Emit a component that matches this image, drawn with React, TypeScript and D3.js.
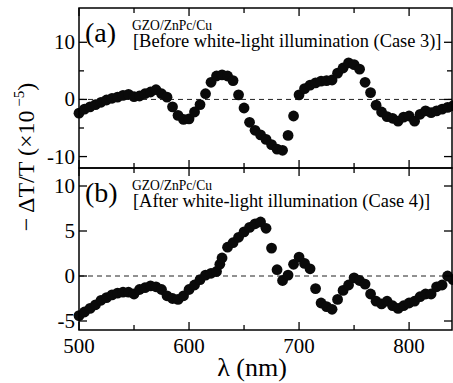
import React, { useEffect, useRef } from 'react';
import * as d3 from 'd3';

// wavelength (nm) and -dT/T (x1e-5)
const lambdaA = [500, 505, 510, 515, 520, 525, 530, 535, 540, 545, 550, 555, 560, 565, 570, 575, 580, 585, 590, 595, 600, 605, 610, 615, 620, 625, 630, 635, 640, 645, 650, 655, 660, 665, 670, 675, 680, 685, 690, 695, 700, 705, 710, 715, 720, 725, 730, 735, 740, 745, 750, 755, 760, 765, 770, 775, 780, 785, 790, 795, 800, 805, 810, 815, 820, 825, 830, 835, 840];
const signalA = [-2.4, -1.7, -1.3, -0.9, -0.5, -0.1, 0.2, 0.4, 0.7, 0.9, 0.5, 0.6, 1.0, 1.3, 1.7, 1.0, 0.4, -1.3, -2.8, -3.5, -3.4, -2.2, -0.9, 1.0, 3.0, 4.1, 4.3, 4.1, 3.3, 0.8, -1.5, -4.0, -5.4, -6.2, -7.0, -7.9, -8.7, -8.9, -6.3, -2.9, 0.8, 1.9, 2.5, 2.9, 3.2, 3.3, 3.4, 4.6, 5.5, 6.4, 6.1, 5.3, 3.0, 1.2, -1.0, -2.2, -3.0, -3.3, -3.8, -3.1, -2.9, -3.8, -2.6, -2.0, -2.3, -2.0, -1.7, -1.4, -1.1];

const lambdaB = [500, 505, 510, 515, 520, 525, 530, 535, 540, 545, 550, 555, 560, 565, 570, 575, 580, 585, 590, 595, 600, 605, 610, 615, 620, 625, 628, 630, 635, 640, 645, 650, 655, 660, 665, 670, 675, 680, 685, 690, 695, 700, 705, 710, 715, 720, 725, 730, 735, 740, 745, 750, 755, 760, 765, 770, 775, 780, 785, 790, 795, 800, 805, 810, 815, 820, 825, 830, 835, 840];
const signalB = [-4.4, -4.0, -3.6, -3.2, -2.7, -2.4, -2.1, -1.9, -1.8, -1.8, -2.0, -1.5, -1.3, -1.1, -1.2, -1.5, -2.2, -2.5, -2.6, -2.2, -1.5, -1.0, -0.4, 0.1, 0.3, 0.5, 1.3, 2.0, 3.2, 3.7, 4.3, 4.9, 5.4, 5.8, 6.0, 5.3, 3.1, 0.7, -0.5, 0.1, 1.3, 2.1, 1.4, 0.8, -1.4, -3.0, -3.4, -3.7, -2.6, -1.6, -1.0, -0.2, -0.5, -0.9, -2.0, -2.8, -3.1, -2.8, -3.3, -3.6, -3.3, -3.0, -2.8, -2.3, -2.0, -2.0, -1.2, -1.0, 0.0, -0.4];

const xMajor = [500, 600, 700, 800];
const xMinor = [550, 650, 750];
const yTicksA = [-10, 0, 10];
const yMinorA = [-5, 5];
const yTicksB = [-5, 0, 5, 10];

const FONT = 'Liberation Serif, DejaVu Serif, serif';

const App = () => {
  const svgRef = useRef(null);

  useEffect(() => {
    const svg = d3.select(svgRef.current);
    svg.selectAll('*').remove();

    const left = 79;
    const right = 452;
    const x = d3.scaleLinear().domain([500, 839]).range([left, right]);

    const panels = [
      {
        lambda: lambdaA, signal: signalA, domain: [-12, 16], top: 8, bottom: 168,
        major: yTicksA, minor: yMinorA, tag: '(a)',
        line1: 'GZO/ZnPc/Cu', line2: '[Before white-light illumination (Case 3)]',
      },
      {
        lambda: lambdaB, signal: signalB, domain: [-6, 12], top: 168, bottom: 330,
        major: yTicksB, minor: [], tag: '(b)',
        line1: 'GZO/ZnPc/Cu', line2: '[After white-light illumination (Case 4)]',
      },
    ];

    panels.forEach((p, i) => {
      const y = d3.scaleLinear().domain(p.domain).range([p.bottom, p.top]);
      const g = svg.append('g');

      // zero line
      g.append('line')
        .attr('x1', left).attr('x2', right)
        .attr('y1', y(0)).attr('y2', y(0))
        .attr('stroke', '#222').attr('stroke-width', 1)
        .attr('stroke-dasharray', '5,4');

      // data points
      g.selectAll('circle')
        .data(p.lambda.map((l, k) => [l, p.signal[k]]))
        .enter()
        .append('circle')
        .attr('cx', d => x(d[0]))
        .attr('cy', d => y(d[1]))
        .attr('r', 5.4)
        .attr('fill', '#0a0a0a');

      // x ticks top and bottom, inward
      const xt = [...xMajor.map(v => [v, 8]), ...xMinor.map(v => [v, 5])];
      xt.forEach(([v, len]) => {
        g.append('line').attr('x1', x(v)).attr('x2', x(v))
          .attr('y1', p.bottom).attr('y2', p.bottom - len)
          .attr('stroke', '#000').attr('stroke-width', 1.3);
        g.append('line').attr('x1', x(v)).attr('x2', x(v))
          .attr('y1', p.top).attr('y2', p.top + len)
          .attr('stroke', '#000').attr('stroke-width', 1.3);
      });

      // y ticks both sides
      const yt = [...p.major.map(v => [v, 8]), ...p.minor.map(v => [v, 5])];
      yt.forEach(([v, len]) => {
        g.append('line').attr('x1', left).attr('x2', left + len)
          .attr('y1', y(v)).attr('y2', y(v))
          .attr('stroke', '#000').attr('stroke-width', 1.3);
        g.append('line').attr('x1', right).attr('x2', right - len)
          .attr('y1', y(v)).attr('y2', y(v))
          .attr('stroke', '#000').attr('stroke-width', 1.3);
      });

      g.selectAll('.ylab')
        .data(p.major)
        .enter()
        .append('text')
        .attr('x', 75)
        .attr('y', d => y(d) + 7)
        .attr('text-anchor', 'end')
        .attr('font-family', FONT)
        .attr('font-size', 21)
        .text(d => (d < 0 ? `-${Math.abs(d)}` : `${d}`));

      // frame
      g.append('rect')
        .attr('x', left).attr('y', p.top)
        .attr('width', right - left).attr('height', p.bottom - p.top)
        .attr('fill', 'none').attr('stroke', '#000').attr('stroke-width', 1.5);

      // annotations
      const off = i === 0 ? 0 : 160;
      g.append('text').attr('x', 85).attr('y', 42 + off)
        .attr('font-family', FONT).attr('font-size', 28).text(p.tag);
      g.append('text').attr('x', 132).attr('y', 30 + off)
        .attr('font-family', FONT).attr('font-size', 15)
        .attr('textLength', 80).attr('lengthAdjust', 'spacingAndGlyphs')
        .text(p.line1);
      g.append('text').attr('x', 133).attr('y', 47 + off)
        .attr('font-family', FONT).attr('font-size', 18.4)
        .text(p.line2);
    });

    // x tick labels
    svg.selectAll('.xlab')
      .data(xMajor)
      .enter()
      .append('text')
      .attr('x', d => x(d))
      .attr('y', 353)
      .attr('text-anchor', 'middle')
      .attr('font-family', FONT)
      .attr('font-size', 21)
      .text(d => d);

    svg.append('text')
      .attr('x', 252).attr('y', 376)
      .attr('text-anchor', 'middle')
      .attr('font-family', FONT).attr('font-size', 26)
      .text('λ (nm)');

    const yl = svg.append('text')
      .attr('transform', 'translate(34,157) rotate(-90)')
      .attr('text-anchor', 'middle')
      .attr('font-family', FONT).attr('font-size', 24);
    yl.append('tspan').text('− ΔT/T (×10');
    yl.append('tspan').attr('dy', -10).attr('font-size', 15).text(' −5');
    yl.append('tspan').attr('dy', 10).text(')');
  }, []);

  return (
    <svg
      ref={svgRef}
      width={453}
      height={383}
      style={{ position: 'absolute', left: 0, top: 0, background: '#fff' }}
    />
  );
};

export default App;
